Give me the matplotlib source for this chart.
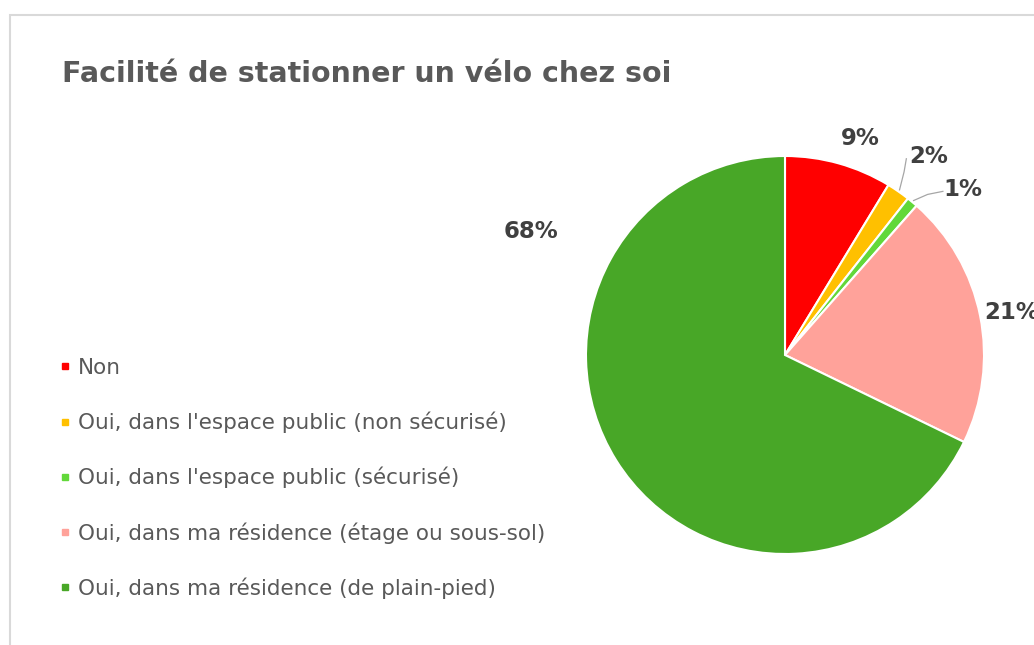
import numpy as np
import matplotlib
matplotlib.use('Agg')
import matplotlib.pyplot as plt
from matplotlib.patches import Rectangle
from matplotlib.lines import Line2D

plt.rcParams['font.family'] = ['DejaVu Sans']

# data
categories = ["Non",
              "Oui, dans l'espace public (non sécurisé)",
              "Oui, dans l'espace public (sécurisé)",
              "Oui, dans ma résidence (étage ou sous-sol)",
              "Oui, dans ma résidence (de plain-pied)"]
shares = [8.7, 1.9, 0.9, 20.7, 67.8]
pct_labels = ["9%", "2%", "1%", "21%", "68%"]
colors = ["#ff0000", "#ffc000", "#62d83a", "#ffa29a", "#48a727"]

# label placement (angle in deg, distance in radii) - Excel "best fit" look
label_pos = [(70.8, 1.15), (54.0, 1.23), (43.0, 1.22), (10.5, 1.16), (154.0, 1.42)]

W, H = 1034, 645
fig = plt.figure(figsize=(W / 100, H / 100), dpi=100)
fig.patch.set_facecolor('white')

# chart frame (cropped on right/bottom)
fig.patches.append(Rectangle((10 / W, -0.1), 1.2, (645 - 15) / H + 0.1,
                             transform=fig.transFigure, fill=False,
                             edgecolor='#d9d9d9', linewidth=1.5))

fig.text(62 / W, 1 - 74 / H, "Facilité de stationner un vélo chez soi",
         fontsize=20.5, fontweight='bold', color='#595959', va='center', ha='left')

cx, cy, R = 785, 355, 199
ax = fig.add_axes([(cx - R) / W, (H - cy - R) / H, 2 * R / W, 2 * R / H])
wedges, _ = ax.pie(shares, colors=colors, startangle=90, counterclock=False,
                   radius=1, wedgeprops=dict(edgecolor='white', linewidth=1.5))
ax.set_xlim(-1, 1)
ax.set_ylim(-1, 1)
ax.set_aspect('equal')
ax.axis('off')

for w, lab, (ang, dist) in zip(wedges, pct_labels, label_pos):
    a = np.deg2rad(ang)
    ax.text(dist * np.cos(a), dist * np.sin(a), lab, ha='center', va='center',
            fontsize=16.5, fontweight='bold', color='#404040', clip_on=False)

# leader lines for the small slices
for w, (ang, dist), yoff in zip(wedges[1:3], label_pos[1:3], [0, 1]):
    mid = np.deg2rad((w.theta1 + w.theta2) / 2)
    x0, y0 = np.cos(mid), np.sin(mid)
    if yoff == 0:
        xs = [x0 * 1.01, x0 * 1.05, x0 * 1.07]
        ys = [y0 * 1.01, y0 * 1.12, y0 * 1.20]
    else:
        xs = [x0 * 1.01, x0 * 1.12, x0 * 1.24]
        ys = [y0 * 1.01, y0 * 1.05, y0 * 1.07]
    ax.add_line(Line2D(xs, ys, color='#a6a6a6', linewidth=0.9, clip_on=False))

handles = [Line2D([0], [0], marker='s', linestyle='none', markersize=5,
                  markerfacecolor=c, markeredgecolor=c) for c in colors]
fig.legend(handles, categories, loc='upper left',
           bbox_to_anchor=(49 / W, 1 - 347 / H), frameon=False,
           fontsize=15.5, labelcolor='#595959', handlelength=0.5,
           handletextpad=0.35, labelspacing=1.57, borderpad=0)

plt.savefig('out.png', dpi=100)
